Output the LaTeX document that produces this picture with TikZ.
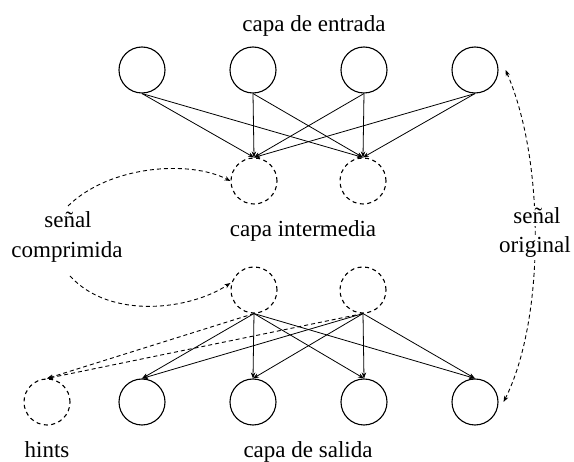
\documentclass[tikz,border=0pt]{standalone}
\usepackage{fontspec}
\setmainfont{Liberation Serif}
\usetikzlibrary{arrows.meta}
\begin{document}
\begin{tikzpicture}[x=1pt,y=-1pt,
  neuron/.style={circle,draw,line width=1.1pt,minimum size=46pt,inner sep=0pt},
  hidden/.style={circle,draw,dash pattern=on 4pt off 3.5pt,line width=1.1pt,minimum size=46pt,inner sep=0pt},
  conn/.style={line width=0.8pt,-{Stealth[length=6pt,width=4.5pt]}},
  dconn/.style={line width=0.9pt,dash pattern=on 4pt off 3pt,-{Stealth[length=6pt,width=4.5pt]}},
  lbl/.style={font=\fontsize{23}{28}\selectfont,anchor=base,inner sep=1pt}]
\useasboundingbox (0,0) rectangle (574,462);
% input layer
\node[neuron] (t1) at (142,70) {};
\node[neuron] (t2) at (253,70) {};
\node[neuron] (t3) at (364,70) {};
\node[neuron] (t4) at (475,70) {};
% hidden layer (upper copy)
\node[hidden] (m1) at (254,181) {};
\node[hidden] (m2) at (363,181) {};
% hidden layer (lower copy)
\node[hidden] (m3) at (254,290) {};
\node[hidden] (m4) at (363,290) {};
% output layer
\node[hidden] (h) at (47,402) {};
\node[neuron] (b1) at (142,402) {};
\node[neuron] (b2) at (253,402) {};
\node[neuron] (b3) at (364,402) {};
\node[neuron] (b4) at (475,402) {};
% labels
\node[lbl] (le) at (314,32) {capa de entrada};
\node[lbl] (li) at (303,237) {capa intermedia};
\node[lbl] (ls) at (308,458) {capa de salida};
\node[lbl] (lh) at (47,458) {hints};
\node[lbl] (lc1) at (68,228) {señal};
\node[lbl] (lc2) at (67,258) {comprimida};
% connections input -> hidden
\foreach \t in {t1,t2,t3,t4}{
  \draw[conn] (\t.south) -- (m1.north);
  \draw[conn] (\t.south) -- (m2.north);
}
% connections hidden -> output
\foreach \b in {b1,b2,b3,b4}{
  \draw[conn] (m3.south) -- (\b.north);
  \draw[conn] (m4.south) -- (\b.north);
}
\draw[dconn] (m3.south) -- (h.north);
\draw[dconn] (m4.south) -- (h.north);
% compressed signal arrows
\coordinate (cs1) at (68,206);
\coordinate (cs2) at (70,276);
\draw[dconn] (cs1) .. controls (110,165) and (190,160) .. (m1.west);
\draw[dconn] (cs2) .. controls (110,320) and (190,310) .. ([yshift=7pt]m3.west);
% original signal double arrow
\draw[line width=0.9pt,dash pattern=on 4pt off 3pt,{Stealth[length=6pt,width=4.5pt]}-{Stealth[length=6pt,width=4.5pt]}]
  ([xshift=7pt]t4.east) .. controls (545,160) and (545,320) .. ([xshift=5pt]b4.east);
\node[lbl,fill=white,inner sep=2pt] (lo1) at (537,224) {señal};
\node[lbl,fill=white,inner sep=2pt] (lo2) at (535,253) {original};
\end{tikzpicture}
\end{document}
